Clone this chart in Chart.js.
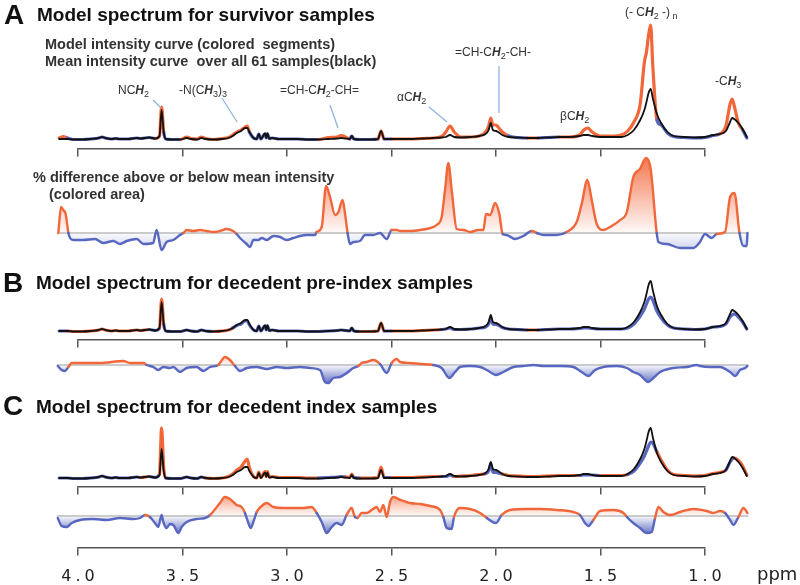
<!DOCTYPE html>
<html lang="en">
<head>
<meta charset="UTF-8">
<title>Model spectra</title>
<script src="https://cdn.jsdelivr.net/npm/chart.js"></script>
<style>
  body { margin: 0; background: #fff; }
  #wrap { position: relative; width: 800px; height: 585px; font-family: "Liberation Sans", Arial, sans-serif; color: #222; overflow: hidden; }
  #wrap canvas { position: absolute; left: 0; top: 0; }
  #wrap svg { position: absolute; left: 0; top: 0; }
  .t { position: absolute; white-space: nowrap; line-height: 1; }
  .letter { font-size: 28px; font-weight: bold; color: #111; }
  .title { font-size: 19px; font-weight: bold; color: #111; }
  .sub { font-size: 14.5px; font-weight: bold; color: #333; }
  .lab { font-size: 12px; color: #333; }
  .lab i { font-weight: bold; }
  .lab sub { font-size: 9px; vertical-align: -3px; line-height: 0; }
  .ppm { font-family: "DejaVu Sans", sans-serif; font-size: 18px; color: #222; }
</style>
</head>
<body>
<div id="wrap">
  <canvas id="spec" width="800" height="585"></canvas>
  <canvas id="axes" width="800" height="585"></canvas>

  <svg width="800" height="585">
    <g stroke="#8fb3dc" stroke-width="1.3">
      <line x1="153" y1="100" x2="161" y2="108"/>
      <line x1="222" y1="98" x2="237" y2="122"/>
      <line x1="330" y1="105" x2="338" y2="128"/>
      <line x1="429" y1="107" x2="447" y2="122"/>
      <line x1="499" y1="66" x2="499" y2="113"/>
    </g>
  </svg>

  <!-- panel A -->
  <div class="t letter" style="left:4px; top:1px;">A</div>
  <div class="t title" style="left:37px; top:5px;">Model spectrum for survivor samples</div>
  <div class="t sub" style="left:45px; top:37px;">Model intensity curve (colored&nbsp; segments)</div>
  <div class="t sub" style="left:45px; top:54px;">Mean intensity curve&nbsp; over all 61 samples(black)</div>
  <div class="t sub" style="left:33px; top:170px;">% difference above or below mean intensity</div>
  <div class="t sub" style="left:49px; top:187px;">(colored area)</div>

  <div class="t lab" style="left:118px; top:84px;">NC<i>H</i><sub>2</sub></div>
  <div class="t lab" style="left:179px; top:84px;">-N(C<i>H</i><sub>3</sub>)<sub>3</sub></div>
  <div class="t lab" style="left:280px; top:84px;">=CH-C<i>H</i><sub>2</sub>-CH=</div>
  <div class="t lab" style="left:397px; top:91px;">&alpha;C<i>H</i><sub>2</sub></div>
  <div class="t lab" style="left:455px; top:46px;">=CH-C<i>H</i><sub>2</sub>-CH-</div>
  <div class="t lab" style="left:560px; top:110px;">&beta;C<i>H</i><sub>2</sub></div>
  <div class="t lab" style="left:625px; top:6px;">(- C<i>H</i><sub>2</sub> -)<sub> n</sub></div>
  <div class="t lab" style="left:715px; top:75px;">-C<i>H</i><sub>3</sub></div>

  <!-- panel B -->
  <div class="t letter" style="left:3px; top:269px;">B</div>
  <div class="t title" style="left:36px; top:273px;">Model spectrum for decedent pre-index samples</div>

  <!-- panel C -->
  <div class="t letter" style="left:3px; top:392px;">C</div>
  <div class="t title" style="left:36px; top:397px;">Model spectrum for decedent index samples</div>

  <div class="t ppm" style="left:757px; top:565px;">ppm</div>
</div>

<script>
    // chemical shift grid of the spectra (ppm, high to low)
    const specPpm = [
        4.09, 4.07, 4.05, 4.02, 3.98, 3.94, 3.90, 3.885, 3.87, 3.84,
        3.82, 3.80, 3.76, 3.72, 3.70, 3.66, 3.63, 3.61, 3.60, 3.59,
        3.58, 3.55, 3.51, 3.48, 3.46, 3.43, 3.41, 3.39, 3.35, 3.31,
        3.28, 3.26, 3.24, 3.22, 3.20, 3.19, 3.18, 3.16, 3.145, 3.135,
        3.125, 3.105, 3.0995, 3.094, 3.085, 3.07, 3.04, 3.00, 2.95, 2.90,
        2.85, 2.80, 2.76, 2.74, 2.72, 2.70, 2.69, 2.68, 2.65, 2.60,
        2.565, 2.55, 2.535, 2.50, 2.45, 2.40, 2.35, 2.30, 2.26, 2.24,
        2.22, 2.20, 2.17, 2.12, 2.08, 2.05, 2.035, 2.025, 2.015, 2.00,
        1.99, 1.97, 1.94, 1.90, 1.85, 1.80, 1.75, 1.70, 1.65, 1.60,
        1.58, 1.56, 1.54, 1.50, 1.45, 1.40, 1.37, 1.34, 1.31, 1.29,
        1.28, 1.27, 1.26, 1.25, 1.23, 1.21, 1.18, 1.15, 1.10, 1.05,
        1.00, 0.96, 0.93, 0.90, 0.88, 0.87, 0.86, 0.84, 0.82, 0.80
    ];

    // mean intensity over all 61 samples (black)
    const meanSpec = [
        1, 1, 1, 0.5, 0.5, 1, 2, 3, 2, 1,
        1.5, 1, 1, 2, 1.5, 2.5, 1.5, 4, 30, 8,
        1, 0.5, 0.5, 2, 1, 0.5, 2, 1, 0.5, 1,
        2, 4, 7, 9, 12, 12, 8, 2, 1, 6,
        1, 6.5, 2, 6.5, 1.5, 2, 1, 1, 1, 0.5,
        0.5, 1, 1.5, 2, 1.5, 1, 4, 1, 0.5, 0.5,
        1, 9, 1, 1, 1, 1, 1.5, 2, 2.5, 3,
        5, 3, 2.5, 3, 4, 6, 10, 17, 10, 9,
        8, 5, 3, 2.5, 2, 2, 2.5, 3, 3, 4,
        5, 5, 4, 3, 3, 3, 5, 10, 20, 30,
        38, 47, 51, 42, 26, 17, 8, 4, 3, 2.5,
        3, 5, 6, 9, 18, 22, 21, 17, 11, 3
    ];

    // model intensity curves
    const modelA = [
        2, 3.5, 2, 0.5, 0.5, 1, 2, 3, 2, 1,
        1.5, 1, 1, 2, 1.5, 2.5, 1.5, 4, 33, 8,
        1, 0.5, 0.5, 3, 1.5, 1, 3, 1.5, 0.5, 1.5,
        2.5, 5, 8, 10, 13, 14, 8, 2, 1, 6,
        1, 6.5, 2, 6.5, 1.5, 2, 1, 1, 1, 0.5,
        0.5, 2.5, 3, 4.5, 3, 1, 4, 1, 0.5, 0.5,
        1, 9, 1, 1, 1, 1, 1.5, 2, 3.5, 8,
        14, 8, 3, 3, 4, 8, 14, 22, 15, 15,
        13, 8, 4, 2.5, 2, 2, 2.5, 3, 3, 5,
        10, 12, 8, 4, 4, 5, 9, 18, 36, 78,
        88, 105, 115, 75, 20, 15, 7, 3.5, 2.5, 2,
        2.5, 4.5, 6, 14, 36, 41, 34, 17, 10, 2
    ];
    const modelB = [
        1, 1, 1, 0.5, 0.5, 1, 2, 3, 2, 1,
        1.5, 1, 1, 2, 1.5, 2.5, 1.5, 4, 33, 8,
        1, 0.5, 0.5, 2, 1, 0.5, 2, 1, 0.5, 1,
        2, 4, 6.5, 8, 11, 11, 7, 2, 1, 6,
        1, 6.5, 2, 6.5, 1.5, 2, 1, 1, 1, 0.5,
        0.5, 1, 1.5, 2, 1.5, 1, 4, 1, 0.5, 0.5,
        1, 9, 1, 1, 1, 1, 1.5, 2, 2.5, 3,
        4, 2.5, 2.5, 3, 4, 5, 8, 14, 8, 7.5,
        7, 4.5, 3, 2.5, 2, 2, 2.5, 3, 3, 3.5,
        4, 4, 3.5, 3, 3, 3, 4, 8, 16, 23,
        28, 33, 35, 32, 21, 14, 7, 4, 3, 2.5,
        3, 5, 5.5, 8, 15, 17, 18, 15, 10, 3
    ];
    const modelC = [
        1, 1, 1, 0.5, 0.5, 1, 2, 3, 2, 1,
        1.5, 1, 1, 2, 1.5, 2.5, 1.5, 5, 51, 11,
        1, 0.5, 0.5, 2, 1, 0.5, 2, 1, 0.5, 1,
        2.5, 5, 9, 12, 18, 20, 11, 2.5, 1, 7,
        1.5, 7.5, 2.5, 7.5, 2, 2.5, 1.5, 1.5, 1.5, 1,
        1, 1.5, 2, 2.5, 2, 1.5, 5, 1.5, 1, 1,
        1.5, 12, 1.5, 1.5, 1.5, 1.5, 2, 2.5, 2.5, 2.5,
        4, 2.5, 3, 3.5, 4.5, 5.5, 8, 15, 7, 6.5,
        6, 5, 3.5, 3, 2.5, 2.5, 3, 3.5, 3.5, 3.5,
        4, 4, 4, 3.5, 3.5, 3.5, 4.5, 8, 16, 23,
        28, 33, 37, 36, 27, 19, 9, 4.5, 3.5, 3,
        3.5, 5.5, 6.5, 9, 17, 20, 21, 18.5, 13, 4
    ];

    // % difference above / below mean intensity
    const diffAPpm = [
        4.094, 4.081, 4.070, 4.059, 4.046, 4.038, 4.022, 3.974, 3.919, 3.879,
        3.831, 3.799, 3.767, 3.719, 3.687, 3.640, 3.624, 3.600, 3.576, 3.544,
        3.512, 3.496, 3.480, 3.448, 3.416, 3.384, 3.352, 3.321, 3.289, 3.258,
        3.241, 3.225, 3.193, 3.177, 3.161, 3.137, 3.121, 3.097, 3.065, 3.033,
        3.002, 2.970, 2.938, 2.906, 2.866, 2.858, 2.834, 2.813, 2.794, 2.770,
        2.754, 2.734, 2.722, 2.710, 2.699, 2.683, 2.651, 2.627, 2.587, 2.555,
        2.523, 2.499, 2.475, 2.459, 2.411, 2.363, 2.315, 2.284, 2.260, 2.244,
        2.228, 2.212, 2.188, 2.156, 2.124, 2.084, 2.060, 2.048, 2.028, 2.004,
        1.984, 1.968, 1.949, 1.909, 1.869, 1.829, 1.805, 1.773, 1.709, 1.662,
        1.614, 1.590, 1.563, 1.542, 1.518, 1.486, 1.454, 1.406, 1.374, 1.343,
        1.311, 1.282, 1.260, 1.231, 1.223, 1.183, 1.119, 1.056, 1.024, 1.000,
        0.968, 0.944, 0.904, 0.880, 0.859, 0.835, 0.816, 0.800, 0.797
    ];
    const diffA = [
        0, 26, 23, 19, 0, -5, -7, -7, -6, -10,
        -8, -11, -8, -6, -11, -10, 3, -17, -9, -7,
        -2, 0, 3, 2, 3, 2, 1, 2, 4, 2,
        -1, -5, -11, -14, -7, -7, -5, -7, -3, -4,
        -7, -5, -3, -2, -2, 1, 6, 47, 36, 18,
        21, 33, 19, 0, -11, -9, -8, -2, -2, 0,
        -6, 3, 3, 2, 2, 3, 5, 8, 16, 43,
        70, 43, 4, 3, 1, 3, 3, 19, 18, 30,
        19, -1, -2, -6, -3, 2, 0, -2, -2, 1,
        11, 29, 53, 33, 9, 3, 6, 13, 21, 56,
        64, 75, 64, 0, -9, -11, -15, -15, -9, -1,
        -5, -1, 1, 36, 40, 0, -13, -13, 0
    ];

    const diffBPpm = [
        4.097, 4.078, 4.062, 4.046, 4.030, 4.006, 3.895, 3.783, 3.751, 3.687,
        3.671, 3.640, 3.616, 3.592, 3.560, 3.544, 3.512, 3.480, 3.432, 3.400,
        3.368, 3.329, 3.297, 3.273, 3.249, 3.225, 3.193, 3.145, 3.097, 3.049,
        3.002, 2.938, 2.890, 2.842, 2.818, 2.802, 2.778, 2.746, 2.714, 2.683,
        2.659, 2.643, 2.619, 2.587, 2.555, 2.523, 2.499, 2.475, 2.459, 2.411,
        2.363, 2.300, 2.260, 2.223, 2.196, 2.172, 2.124, 2.076, 2.044, 2.000,
        1.965, 1.917, 1.869, 1.821, 1.773, 1.693, 1.630, 1.590, 1.558, 1.526,
        1.486, 1.422, 1.374, 1.343, 1.311, 1.271, 1.247, 1.215, 1.151, 1.087,
        1.040, 1.024, 0.976, 0.928, 0.880, 0.856, 0.832, 0.808, 0.797
    ];
    const diffB = [
        -1, -5, -6, -2, 2, 2, 2, 4, 2, 2,
        0, -2, -5, -2, -3, -2, -7, -3, -2, -6,
        -2, 0, 8, 5, -1, -6, -3, -2, -4, -2,
        -3, -2, -3, -5, -17, -18, -13, -12, -8, -3,
        -1, 2, 3, 5, 1, -8, 2, 6, 3, 2,
        1, 0, -3, -13, -7, -2, -1, -2, -5, -10,
        -7, -2, -1, 0, -1, -1, -2, -7, -11, -5,
        -2, -1, -3, -7, -10, -17, -13, -7, -3, -2,
        0, -1, -2, -2, -7, -11, -5, -3, -1
    ];

    const diffCPpm = [
        4.097, 4.078, 4.054, 4.030, 3.990, 3.927, 3.863, 3.799, 3.735, 3.703,
        3.679, 3.656, 3.632, 3.616, 3.600, 3.592, 3.576, 3.560, 3.544, 3.520,
        3.504, 3.480, 3.432, 3.392, 3.368, 3.321, 3.297, 3.273, 3.241, 3.217,
        3.201, 3.185, 3.174, 3.161, 3.145, 3.121, 3.097, 3.065, 3.018, 2.970,
        2.922, 2.882, 2.858, 2.834, 2.810, 2.786, 2.762, 2.738, 2.715, 2.691,
        2.675, 2.663, 2.643, 2.619, 2.595, 2.571, 2.555, 2.539, 2.523, 2.507,
        2.491, 2.467, 2.411, 2.363, 2.315, 2.268, 2.252, 2.236, 2.212, 2.201,
        2.172, 2.124, 2.076, 2.044, 2.000, 1.973, 1.933, 1.853, 1.789, 1.709,
        1.630, 1.598, 1.574, 1.558, 1.534, 1.502, 1.438, 1.390, 1.374, 1.343,
        1.311, 1.279, 1.255, 1.239, 1.223, 1.199, 1.167, 1.119, 1.056, 0.992,
        0.960, 0.928, 0.904, 0.880, 0.864, 0.840, 0.816, 0.797
    ];
    const diffC = [
        -2, -10, -11, -7, -4, -3, -4, -2, -3, -2,
        1, -1, -7, -11, 1, -6, -12, -8, -9, -17,
        -11, -6, -3, -2, 1, 13, 19, 17, 11, 9,
        3, -7, -12, -6, 4, 10, 13, 9, 8, 8,
        8, 9, 3, -6, -17, -11, -7, -9, 1, 8,
        -1, -2, 3, 3, 6, 9, 4, 11, -1, 14,
        19, 17, 13, 12, 10, 6, -1, -12, -13, -1,
        8, 7, 3, -2, -7, 1, 6, 7, 7, 6,
        4, 1, -7, -10, -4, 5, 6, 3, -1, -7,
        -12, -17, -16, -2, 9, 4, 1, 4, 7, 5,
        3, 5, 3, -4, -9, -1, 8, 3
    ];

    // axis ticks (ppm)
    const tickMin = 1.0, tickMax = 4.0, tickStep = 0.5;

    // ---- layout (pixels) ----
    const W = 800, H = 585;
    const X_LEFT = 78, X_RIGHT = 705;           // where 4.0 and 1.0 sit
    const PX_PER_PPM = (X_RIGHT - X_LEFT) / (tickMax - tickMin);
    const specBase = { A: 140, B: 332, C: 479 };
    const diffBase = { A: 233, B: 365, C: 516 };
    const axisRows = [149, 340, 487, 548];

    const ORANGE = '#f1673a', BLUE = '#5867c0', GREY = '#cbcbcb', BLACK = '#111';

    const pts = (xs, ys) => xs.map((x, i) => ({ x, y: ys[i] }));

    function nearestVal(xs, ys, x) {
        let best = 0;
        for (let i = 1; i < xs.length; i++) {
            if (Math.abs(xs[i] - x) < Math.abs(xs[best] - x)) best = i;
        }
        return ys[best];
    }

    // spectrum segments take the colour of the model vs mean difference
    function specSegColor(model, dX, dY) {
        return ctx => {
            const i0 = ctx.p0DataIndex, i1 = ctx.p1DataIndex;
            const d = (model[i0] - meanSpec[i0]) + (model[i1] - meanSpec[i1]);
            if (d > 1) return ORANGE;
            if (d < -1) return BLUE;
            const mid = (specPpm[i0] + specPpm[i1]) / 2;
            return nearestVal(dX, dY, mid) >= 0 ? ORANGE : BLUE;
        };
    }

    const diffSegColor = ctx => (ctx.p0.parsed.y + ctx.p1.parsed.y) >= 0 ? ORANGE : BLUE;

    const specCanvas = document.getElementById('spec');
    const sctx = specCanvas.getContext('2d');

    function vGrad(base, extent, rgb) {
        const g = sctx.createLinearGradient(0, base, 0, base - extent);
        g.addColorStop(0, `rgba(${rgb},0.03)`);
        g.addColorStop(1, `rgba(${rgb},0.92)`);
        return g;
    }
    const ORANGE_RGB = '241,103,58', BLUE_RGB = '88,103,192';
    const fillExt = {
        A: { up: 78, down: 60 },
        B: { up: 25, down: 18 },
        C: { up: 32, down: 18 }
    };

    const panels = [
        { key: 'A', model: modelA, dX: diffAPpm, dY: diffA },
        { key: 'B', model: modelB, dX: diffBPpm, dY: diffB },
        { key: 'C', model: modelC, dX: diffCPpm, dY: diffC }
    ];

    const datasets = [];
    const scales = {
        x: {
            type: 'linear', display: false, reverse: true,
            min: tickMin - (W - X_RIGHT) / PX_PER_PPM,
            max: tickMax + X_LEFT / PX_PER_PPM
        }
    };

    panels.forEach(p => {
        const sId = 's' + p.key, dId = 'd' + p.key;
        // 1 intensity unit = 1 px, zero at the panel baseline
        scales[sId] = { type: 'linear', axis: 'y', display: false, min: specBase[p.key] - H, max: specBase[p.key] };
        scales[dId] = { type: 'linear', axis: 'y', display: false, min: diffBase[p.key] - H, max: diffBase[p.key] };

        datasets.push({
            data: pts(specPpm, meanSpec), yAxisID: sId, order: 0,
            borderColor: BLACK, borderWidth: 1.8, cubicInterpolationMode: 'monotone', fill: false
        });
        datasets.push({
            data: pts(specPpm, p.model), yAxisID: sId, order: 1,
            borderColor: ORANGE, borderWidth: 3.2, cubicInterpolationMode: 'monotone', fill: false,
            segment: { borderColor: specSegColor(p.model, p.dX, p.dY) }
        });
        datasets.push({
            data: pts(p.dX, p.dY), yAxisID: dId, order: 0,
            borderColor: ORANGE, borderWidth: 2.4, cubicInterpolationMode: 'monotone',
            segment: { borderColor: diffSegColor },
            fill: {
                target: { value: 0 },
                above: vGrad(diffBase[p.key], fillExt[p.key].up, ORANGE_RGB),
                below: vGrad(diffBase[p.key], -fillExt[p.key].down, BLUE_RGB)
            }
        });
        // zero line of the % difference trace
        datasets.push({
            data: pts(p.dX, p.dX.map(() => 0)), yAxisID: dId, order: 2,
            borderColor: GREY, borderWidth: 2.2, fill: false
        });
    });

    new Chart(sctx, {
        type: 'line',
        data: { datasets },
        options: {
            responsive: false,
            animation: false,
            events: [],
            layout: { padding: 0 },
            elements: { point: { radius: 0 }, line: { borderJoinStyle: 'round', borderCapStyle: 'round' } },
            scales,
            plugins: {
                legend: { display: false },
                tooltip: { enabled: false },
                filler: { drawTime: 'beforeDatasetsDraw' }
            }
        }
    });

    // ---- the four ppm axes (own canvas, so the line runs only from 4.0 to 1.0) ----
    const AXIS = '#555';
    function tickAxis(yPx, labels) {
        return {
            type: 'linear', axis: 'x', position: { py: yPx },
            min: tickMin, max: tickMax, reverse: true,
            grid: { drawOnChartArea: false, tickLength: 7, color: AXIS, lineWidth: 1.5 },
            border: { color: AXIS, width: 1.5 },
            ticks: {
                stepSize: tickStep, display: labels, autoSkip: false, maxRotation: 0,
                padding: 12, labelOffset: 2, color: '#222',
                font: { family: 'DejaVu Sans', size: 16 },
                callback: v => v.toFixed(1)
            }
        };
    }
    const axisScales = { py: { type: 'linear', axis: 'y', position: 'left', display: false, min: 0, max: H, reverse: true } };
    axisRows.forEach((y, i) => { axisScales['x' + (i + 1)] = tickAxis(y, i === axisRows.length - 1); });

    const spacedTicks = {
        id: 'spacedTicks',
        beforeDraw(chart) { chart.ctx.letterSpacing = '4px'; }
    };

    new Chart(document.getElementById('axes'), {
        type: 'line',
        data: { datasets: [] },
        options: {
            responsive: false,
            animation: false,
            events: [],
            layout: { padding: { left: X_LEFT, right: W - X_RIGHT, top: 0, bottom: 0 } },
            scales: axisScales,
            plugins: { legend: { display: false }, tooltip: { enabled: false } }
        },
        plugins: [spacedTicks]
    });
</script>
</body>
</html>
